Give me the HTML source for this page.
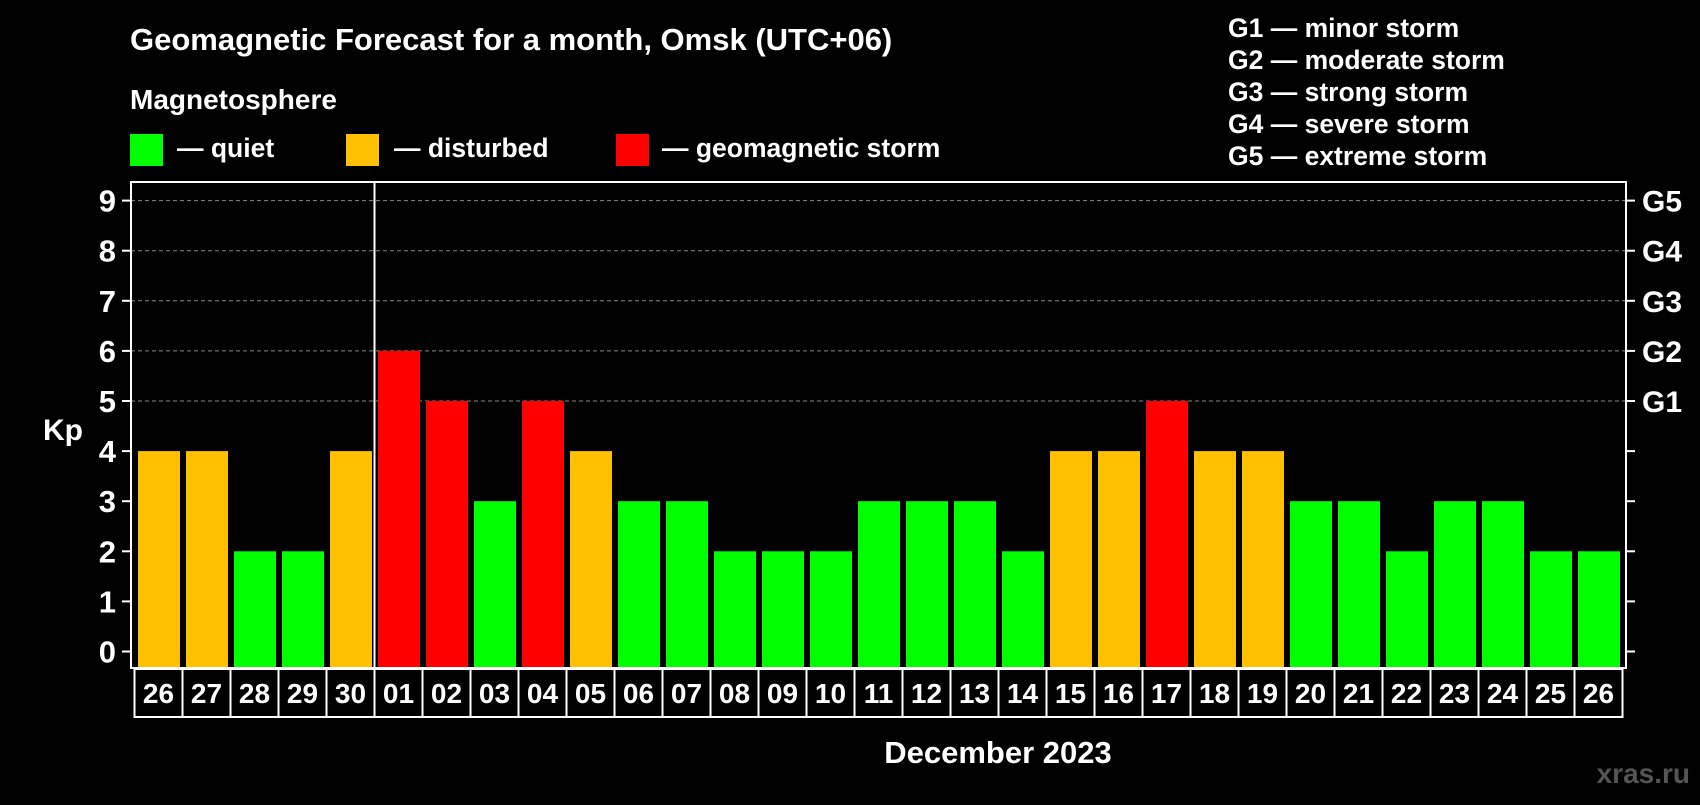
<!DOCTYPE html>
<html><head><meta charset="utf-8"><style>
body{margin:0;background:#000;width:1700px;height:800px;overflow:hidden;font-family:"Liberation Sans",sans-serif}
svg text{font-family:"Liberation Sans",sans-serif;font-weight:bold;fill:#fff}
</style></head><body>
<svg id="c" width="1700" height="800">
<text x="130" y="50" font-size="31">Geomagnetic Forecast for a month, Omsk (UTC+06)</text>
<text x="130" y="109" font-size="28">Magnetosphere</text>
<rect x="130" y="134" width="33" height="32" fill="#00ff00"/>
<text x="177" y="157" font-size="26.5">— quiet</text>
<rect x="346" y="134" width="33" height="32" fill="#ffc000"/>
<text x="394" y="157" font-size="26.5">— disturbed</text>
<rect x="616" y="134" width="33" height="32" fill="#ff0000"/>
<text x="662" y="157" font-size="26.5">— geomagnetic storm</text>
<g font-size="26.5">
<text x="1228" y="37">G1 — minor storm</text>
<text x="1228" y="69">G2 — moderate storm</text>
<text x="1228" y="101">G3 — strong storm</text>
<text x="1228" y="133">G4 — severe storm</text>
<text x="1228" y="165">G5 — extreme storm</text>
</g>
<text x="63" y="440" font-size="30" text-anchor="middle">Kp</text>
<text x="998" y="763" font-size="31" text-anchor="middle">December 2023</text>
<text x="1690" y="783" font-size="28" text-anchor="end" style="fill:#555">xras.ru</text>
<g id="grid"></g><g id="bars"></g><g id="axes"></g>
</svg>
<script>
const days=["26","27","28","29","30","01","02","03","04","05","06","07","08","09","10","11","12","13","14","15","16","17","18","19","20","21","22","23","24","25","26"];
const kp=[4,4,2,2,4,6,5,3,5,4,3,3,2,2,2,3,3,3,2,4,4,5,4,4,3,3,2,3,3,2,2];
const yTicks=[0,1,2,3,4,5,6,7,8,9];
const gLabels=["","","","","","G1","G2","G3","G4","G5"];
const NS="http://www.w3.org/2000/svg";
const L=131,R=1626,T=182,B=668,slot0=134.5,slotW=48,SH=48;
const y=v=>651.5-v*50.1;
const x=i=>slot0+i*slotW;
function mk(tag,attrs,parent){const e=document.createElementNS(NS,tag);for(const k in attrs)e.setAttribute(k,attrs[k]);parent.appendChild(e);return e;}
const grid=document.getElementById('grid'),bars=document.getElementById('bars'),axes=document.getElementById('axes');
yTicks.forEach((v,i)=>{
 if(v>=5){const g=mk('line',{x1:L,x2:R,y1:y(v),y2:y(v),stroke:'#888','stroke-dasharray':'4,3','stroke-width':1},grid);
 
 }
 const t1=mk('line',{x1:L-9,x2:L,y1:y(v),y2:y(v),stroke:'#fff','stroke-width':2},axes);
 
 
 const t2=mk('line',{x1:R,x2:R+9,y1:y(v),y2:y(v),stroke:'#fff','stroke-width':2},axes);
 
 
 const lb=mk('text',{x:116,y:y(v)+11,'font-size':31,'text-anchor':'end'},axes);lb.textContent=v;
 
 
 if(gLabels[i]){const gl=mk('text',{x:1642,y:y(v)+11,'font-size':30},axes);gl.textContent=gLabels[i];
 
 }
});
kp.forEach((v,i)=>{
 const col=v>=5?'#ff0000':(v==4?'#ffc000':'#00ff00');
 const r=mk('rect',{x:x(i)+3.5,y:y(v),width:42,height:B-y(v),fill:col},bars);
 
 
});
const box=mk('rect',{x:L,y:T,width:R-L,height:B-T,fill:'none',stroke:'#fff','stroke-width':2},axes);


const lb2=mk('rect',{x:slot0,y:B+1,width:slotW*days.length,height:SH,fill:'none',stroke:'#fff','stroke-width':2},axes);


days.forEach((d,i)=>{
 if(i>0){const s=mk('line',{x1:x(i),x2:x(i),y1:B,y2:B+1+SH,stroke:'#fff','stroke-width':2},axes);
 
 }
 const t=mk('text',{x:x(i)+24,y:B+35,'font-size':28,'text-anchor':'middle'},axes);t.textContent=d;
 
 
});
const div=mk('line',{x1:x(5),x2:x(5),y1:T,y2:B+1+SH,stroke:'#fff','stroke-width':2},axes);


</script>
</body></html>
